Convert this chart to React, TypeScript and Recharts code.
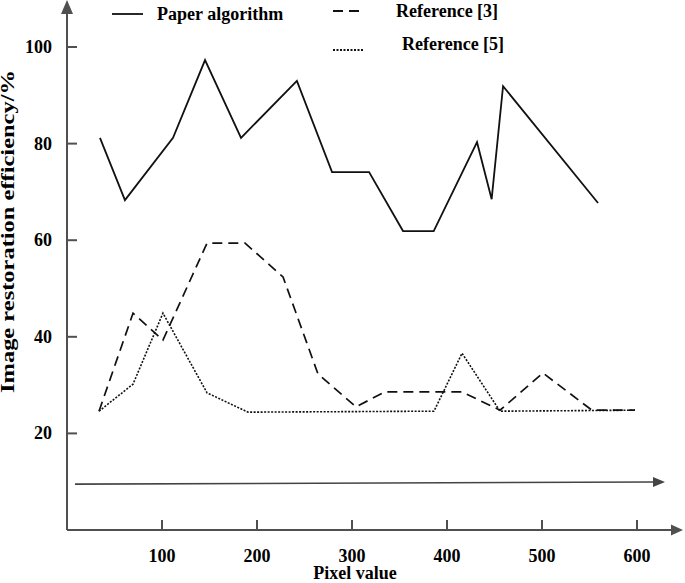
import React from 'react';
import { LineChart, Line, XAxis, YAxis, Legend, ReferenceDot, ReferenceLine } from 'recharts';

const paperX = [34.7, 61, 111.6, 145.3, 183.2, 242, 279, 318, 353.7, 386, 431.6, 447, 459, 559];
const paperY = [81.2, 68.3, 81.2, 97.3, 81.2, 93.0, 74.1, 74.1, 61.9, 61.9, 80.3, 68.5, 91.9, 67.7];

const ref3X = [33.7, 69.5, 101, 147.4, 187.4, 227.4, 264.2, 304.2, 334.7, 415.8, 455.8, 501, 552.6, 597.9];
const ref3Y = [24.6, 44.9, 39.3, 59.4, 59.4, 52.4, 32.3, 25.5, 28.6, 28.6, 24.8, 32.5, 24.8, 24.8];

const ref5X = [33.7, 69.5, 101, 147.4, 190.5, 386.3, 415.8, 455.8, 597.9];
const ref5Y = [24.6, 30.2, 44.9, 28.4, 24.4, 24.6, 36.6, 24.6, 24.8];

const xTicks = [100, 200, 300, 400, 500, 600];
const yTicks = [20, 40, 60, 80, 100];

const seriesNames = ['Paper algorithm', 'Reference [3]', 'Reference [5]'];

const paperData = paperX.map((x, i) => ({ x, y: paperY[i] }));
const ref3Data = ref3X.map((x, i) => ({ x, y: ref3Y[i] }));
const ref5Data = ref5X.map((x, i) => ({ x, y: ref5Y[i] }));

const AX = '#505050';
const INK = '#111';
const FONT = '"Liberation Serif", "Times New Roman", serif';

const XTick = (props: any) => {
  const { x, y, payload } = props;
  return (
    <g>
      <line x1={x} y1={y - 10} x2={x} y2={y} stroke={AX} strokeWidth={2} />
      <text x={x} y={y + 32} textAnchor="middle" fontFamily={FONT} fontWeight="bold" fontSize={18} fill="#000">
        {payload.value}
      </text>
    </g>
  );
};

const YTick = (props: any) => {
  const { x, y, payload } = props;
  return (
    <g>
      <line x1={x + 15} y1={y} x2={x + 25} y2={y} stroke={AX} strokeWidth={2} />
      <text x={x} y={y + 6} textAnchor="end" fontFamily={FONT} fontWeight="bold" fontSize={18} fill="#000">
        {payload.value}
      </text>
    </g>
  );
};

const YLabel = (props: any) => {
  const vb = props.viewBox || { x: 0, y: 5 };
  const cx = vb.x + 14;
  const cy = vb.y + 226.5;
  return (
    <text
      x={cx}
      y={cy}
      transform={`rotate(-90, ${cx}, ${cy})`}
      textAnchor="middle"
      fontFamily={FONT}
      fontWeight="bold"
      fontSize={18}
      textLength={323}
      lengthAdjust="spacingAndGlyphs"
      fill="#000"
    >
      Image restoration efficiency/%
    </text>
  );
};

const XLabel = (props: any) => {
  const vb = props.viewBox || { x: 67, y: 530 };
  return (
    <text x={vb.x + 288} y={vb.y + 49} textAnchor="middle" fontFamily={FONT} fontWeight="bold" fontSize={18} fill="#000">
      Pixel value
    </text>
  );
};

const UpArrow = (props: any) => {
  const { cx, cy } = props;
  return <polygon points={`${cx},${cy - 5} ${cx - 6},${cy + 9} ${cx + 6},${cy + 9}`} fill={AX} />;
};

const RightArrow = (props: any) => {
  const { cx, cy } = props;
  return <polygon points={`${cx + 8},${cy} ${cx - 4},${cy - 5.5} ${cx - 4},${cy + 5.5}`} fill={AX} />;
};

const ArrowLine = (props: any) => {
  const { x1, y1, x2, y2 } = props;
  const ang = Math.atan2(y2 - y1, x2 - x1);
  const L = 12;
  const W = 5;
  const bx = x2 - L * Math.cos(ang);
  const by = y2 - L * Math.sin(ang);
  const px = -Math.sin(ang) * W;
  const py = Math.cos(ang) * W;
  return (
    <g>
      <line x1={x1} y1={y1} x2={bx} y2={by} stroke="#444" strokeWidth={1.6} />
      <polygon points={`${x2},${y2} ${bx + px},${by + py} ${bx - px},${by - py}`} fill="#444" />
    </g>
  );
};

const legendLayout = [
  { lx1: 112, lx2: 143, ly: 14, tx: 157, ty: 20, dash: undefined as string | undefined },
  { lx1: 333, lx2: 359, ly: 11, tx: 396, ty: 17, dash: '10 6' },
  { lx1: 333, lx2: 363, ly: 50, tx: 402, ty: 50, dash: '2 1.5' },
];

const LegendContent = () => (
  <div style={{ position: 'relative', height: 0 }}>
    <svg width={685} height={60} style={{ position: 'absolute', left: 0, top: 0, overflow: 'visible' }}>
      {seriesNames.map((name, i) => {
        const l = legendLayout[i];
        return (
          <g key={name}>
            <line x1={l.lx1} y1={l.ly} x2={l.lx2} y2={l.ly} stroke={INK} strokeWidth={1.8} strokeDasharray={l.dash} />
            <text x={l.tx} y={l.ty} fontFamily={FONT} fontWeight="bold" fontSize={18} fill="#000">
              {name}
            </text>
          </g>
        );
      })}
    </svg>
  </div>
);

export default function App() {
  return (
    <div style={{ position: 'absolute', left: 0, top: 0, width: 685, height: 583, background: '#fff' }}>
      <LineChart width={685} height={583} margin={{ top: 5, right: 10, bottom: 0, left: 0 }}>
        <XAxis
          type="number"
          dataKey="x"
          domain={[0, 640]}
          ticks={xTicks}
          interval={0}
          allowDataOverflow
          height={53}
          axisLine={{ stroke: AX, strokeWidth: 2 }}
          tickLine={false}
          tickSize={0}
          tickMargin={0}
          tick={<XTick />}
          label={{ content: XLabel }}
        />
        <YAxis
          type="number"
          dataKey="y"
          domain={[0, 108.7]}
          ticks={yTicks}
          interval={0}
          allowDataOverflow
          width={67}
          axisLine={{ stroke: AX, strokeWidth: 2 }}
          tickLine={false}
          tickSize={0}
          tickMargin={15}
          tick={<YTick />}
          label={{ content: YLabel }}
        />
        <Legend
          verticalAlign="top"
          wrapperStyle={{ top: 0, left: 0, width: 685 }}
          content={LegendContent}
        />
        <ReferenceLine
          segment={[{ x: 8.4, y: 9.5 }, { x: 629.5, y: 9.95 }]}
          ifOverflow="visible"
          shape={ArrowLine}
        />
        <ReferenceDot x={0} y={108.7} ifOverflow="visible" shape={UpArrow} />
        <ReferenceDot x={640} y={0} ifOverflow="visible" shape={RightArrow} />
        <Line
          data={paperData}
          dataKey="y"
          name={seriesNames[0]}
          type="linear"
          stroke={INK}
          strokeWidth={1.8}
          dot={false}
          activeDot={false}
          isAnimationActive={false}
        />
        <Line
          data={ref3Data}
          dataKey="y"
          name={seriesNames[1]}
          type="linear"
          stroke={INK}
          strokeWidth={1.7}
          strokeDasharray="10 6"
          dot={false}
          activeDot={false}
          isAnimationActive={false}
        />
        <Line
          data={ref5Data}
          dataKey="y"
          name={seriesNames[2]}
          type="linear"
          stroke={INK}
          strokeWidth={1.6}
          strokeDasharray="2 1.5"
          dot={false}
          activeDot={false}
          isAnimationActive={false}
        />
      </LineChart>
    </div>
  );
}
